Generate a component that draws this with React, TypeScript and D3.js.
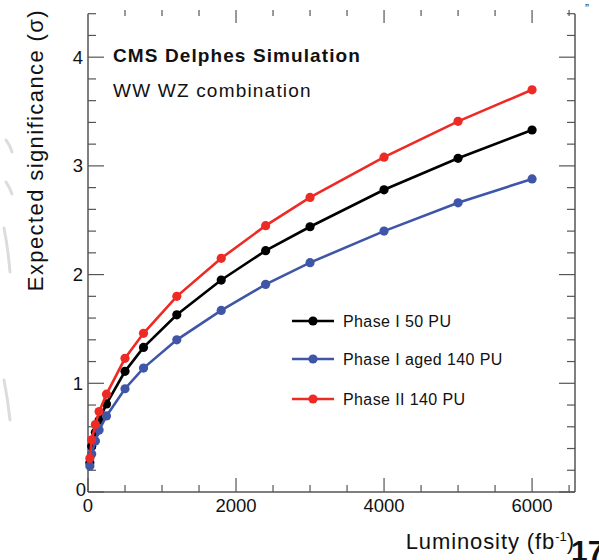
import React from "react";
import * as d3 from "d3";

const lumi = [25, 50, 100, 150, 250, 500, 750, 1200, 1800, 2400, 3000, 4000, 5000, 6000];
const phase1_50 = [0.27, 0.42, 0.55, 0.66, 0.81, 1.11, 1.33, 1.63, 1.95, 2.22, 2.44, 2.78, 3.07, 3.33];
const phase1aged_140 = [0.24, 0.35, 0.47, 0.57, 0.70, 0.95, 1.14, 1.40, 1.67, 1.91, 2.11, 2.40, 2.66, 2.88];
const phase2_140 = [0.31, 0.48, 0.62, 0.74, 0.90, 1.23, 1.46, 1.80, 2.15, 2.45, 2.71, 3.08, 3.41, 3.70];

const seriesNames = ["Phase I 50 PU", "Phase I aged 140 PU", "Phase II 140 PU"];
const seriesColors = ["#000000", "#3f56a8", "#ee2a25"];
const seriesValues = [phase1_50, phase1aged_140, phase2_140];

const xTickLabels = [0, 2000, 4000, 6000];
const yTickLabels = [0, 1, 2, 3, 4];

const W = 599;
const H = 560;
const font = "'Liberation Sans', Arial, Helvetica, sans-serif";
const axisColor = "#555";

export default function App() {
  const x = d3.scaleLinear().domain([0, 6580]).range([88, 575]);
  const y = d3.scaleLinear().domain([0, 4.4]).range([492, 13.7]);
  const line = d3
    .line<number>()
    .x((_, i) => x(lumi[i]))
    .y((v) => y(v));

  const xMinor = d3.range(0, 6501, 500);
  const yMinor = d3.range(0, 4.41, 0.2);

  const legendY = [321, 359, 399];

  return (
    <svg
      width={W}
      height={H}
      style={{ position: "absolute", left: 0, top: 0, background: "#fff" }}
      fontFamily={font}
    >
      {/* faint scan artifacts on the left */}
      <g stroke="#dcdcdc" strokeWidth={3} fill="none" strokeLinecap="round">
        <path d="M6,140 Q10,145 12,152" />
        <path d="M6,182 Q10,188 12,194" />
        <path d="M4,228 Q8,248 10,272" />
        <path d="M4,380 Q8,400 10,420" />
      </g>

      {/* axes lines */}
      <line x1={x(0)} x2={x(0)} y1={y(4.4)} y2={y(0)} stroke={axisColor} strokeWidth={1.5} />
      <line x1={x(6580)} x2={x(6580)} y1={y(4.4)} y2={y(0)} stroke={axisColor} strokeWidth={1.5} />
      <line x1={x(0)} x2={x(6580)} y1={y(0)} y2={y(0)} stroke={axisColor} strokeWidth={1.5} />

      {/* x ticks bottom & top */}
      {xMinor.map((v) => {
        const major = v % 2000 === 0;
        const len = major ? 14 : 7;
        return (
          <g key={"xt" + v} stroke={axisColor} strokeWidth={1.2}>
            <line x1={x(v)} x2={x(v)} y1={y(0)} y2={y(0) - len} />
            {v > 0 && <line x1={x(v)} x2={x(v)} y1={10} y2={10 + (major ? 13 : 6)} />}
          </g>
        );
      })}
      {/* y ticks left & right */}
      {yMinor.map((v, i) => {
        const major = i % 5 === 0;
        const len = major ? 16 : 8;
        return (
          <g key={"yt" + i} stroke={axisColor} strokeWidth={1.2}>
            <line x1={x(0)} x2={x(0) + len} y1={y(v)} y2={y(v)} />
            <line x1={x(6580)} x2={x(6580) - len} y1={y(v)} y2={y(v)} />
          </g>
        );
      })}

      {/* tick labels */}
      {xTickLabels.map((v) => (
        <text key={"xl" + v} x={x(v)} y={512} fontSize={18.5} textAnchor="middle" fill="#111">
          {v}
        </text>
      ))}
      {yTickLabels.map((v) => (
        <text key={"yl" + v} x={v === 0 ? 86 : 83} y={y(v) + (v === 0 ? 4 : 6.5)} fontSize={18.5} textAnchor="end" fill="#111">
          {v}
        </text>
      ))}

      {/* axis titles */}
      <text
        transform="translate(43,9) rotate(-90)"
        fontSize={22}
        letterSpacing={1.4}
        textAnchor="end"
        fill="#111"
      >
        Expected significance (σ)
      </text>
      <text x={575} y={549} fontSize={22} letterSpacing={0.9} textAnchor="end" fill="#111">
        Luminosity (fb
        <tspan dy={-8} fontSize={13} letterSpacing={0}>-1</tspan>
        <tspan dy={8}>)</tspan>
      </text>

      {/* header texts */}
      <text x={113} y={62} fontSize={19} fontWeight="bold" letterSpacing={1.1} fill="#111">
        CMS Delphes Simulation
      </text>
      <text x={113} y={97} fontSize={19} letterSpacing={1.2} fill="#111">
        WW WZ combination
      </text>

      {/* series */}
      {seriesValues.map((vals, s) => (
        <g key={"s" + s}>
          <path d={line(vals) || ""} fill="none" stroke={seriesColors[s]} strokeWidth={2.6} />
          {vals.map((v, i) => (
            <circle key={i} cx={x(lumi[i])} cy={y(v)} r={4.6} fill={seriesColors[s]} />
          ))}
        </g>
      ))}

      {/* legend */}
      {seriesNames.map((name, s) => (
        <g key={"lg" + s}>
          <line x1={292} x2={334} y1={legendY[s]} y2={legendY[s]} stroke={seriesColors[s]} strokeWidth={2.6} />
          <circle cx={313} cy={legendY[s]} r={4.6} fill={seriesColors[s]} />
          <text x={343} y={legendY[s] + 6} fontSize={16} letterSpacing={0.4} fill="#111">
            {name}
          </text>
        </g>
      ))}

      {/* corner marks */}
      <text x={585} y={13} fontSize={12} fill="#333">”</text>
      <text x={571} y={561} fontSize={30} fontWeight="bold" fill="#111">17</text>
    </svg>
  );
}
